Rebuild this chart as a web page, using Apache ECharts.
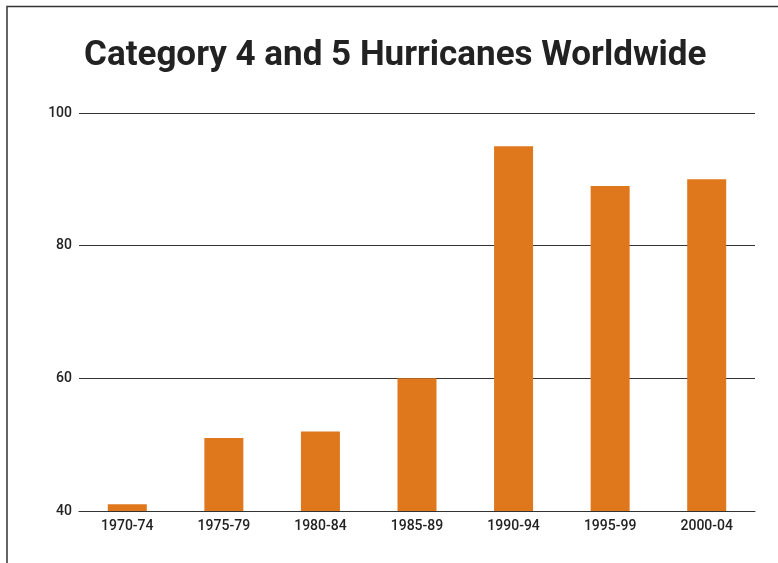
<!DOCTYPE html>
<html>
<head>
<meta charset="utf-8">
<script src="https://cdn.jsdelivr.net/npm/echarts@6/dist/echarts.min.js"></script>
<style>
  html, body { margin: 0; padding: 0; background: #fff; }
  #c1 { width: 778px; height: 563px; }
</style>
</head>
<body>
<div id="c1"></div>
<script>
// 数据
var periods = ['1970-74', '1975-79', '1980-84', '1985-89', '1990-94', '1995-99', '2000-04'];
var hurricanes = [41, 51, 52, 60, 95, 89, 90];
var yTicks = [40, 60, 80, 100];

var chart = echarts.init(document.getElementById('c1'));
chart.setOption({
    backgroundColor: '#fff',
    title: {
        text: 'Category 4 and 5 Hurricanes Worldwide',
        left: 84,
        top: 39,
        padding: 0,
        textStyle: {
            fontFamily: 'Roboto',
            fontWeight: 'bold',
            fontSize: 35,
            color: '#222'
        }
    },
    // 边框
    graphic: [{
        type: 'polyline',
        shape: { points: [[7, 563], [7, 6.5], [778, 6.5]] },
        style: { stroke: '#333', lineWidth: 1.5, fill: null }
    }],
    grid: { left: 79, right: 23, top: 113, bottom: 52 },
    xAxis: {
        type: 'category',
        data: periods,
        axisTick: { show: false },
        axisLine: { lineStyle: { color: '#333', width: 1 } },
        axisLabel: { color: '#222', fontSize: 14, fontWeight: 500, fontFamily: 'Roboto', margin: 8 }
    },
    yAxis: {
        type: 'value',
        min: yTicks[0],
        max: yTicks[yTicks.length - 1],
        interval: 20,
        axisLine: { show: false },
        axisTick: { show: false },
        axisLabel: { color: '#222', fontSize: 14, fontWeight: 500, fontFamily: 'Roboto', margin: 7 },
        splitLine: { lineStyle: { color: '#333', width: 1 } }
    },
    series: [{
        type: 'bar',
        data: hurricanes,
        barWidth: 39,
        itemStyle: { color: '#df771c' }
    }]
});
</script>
</body>
</html>
